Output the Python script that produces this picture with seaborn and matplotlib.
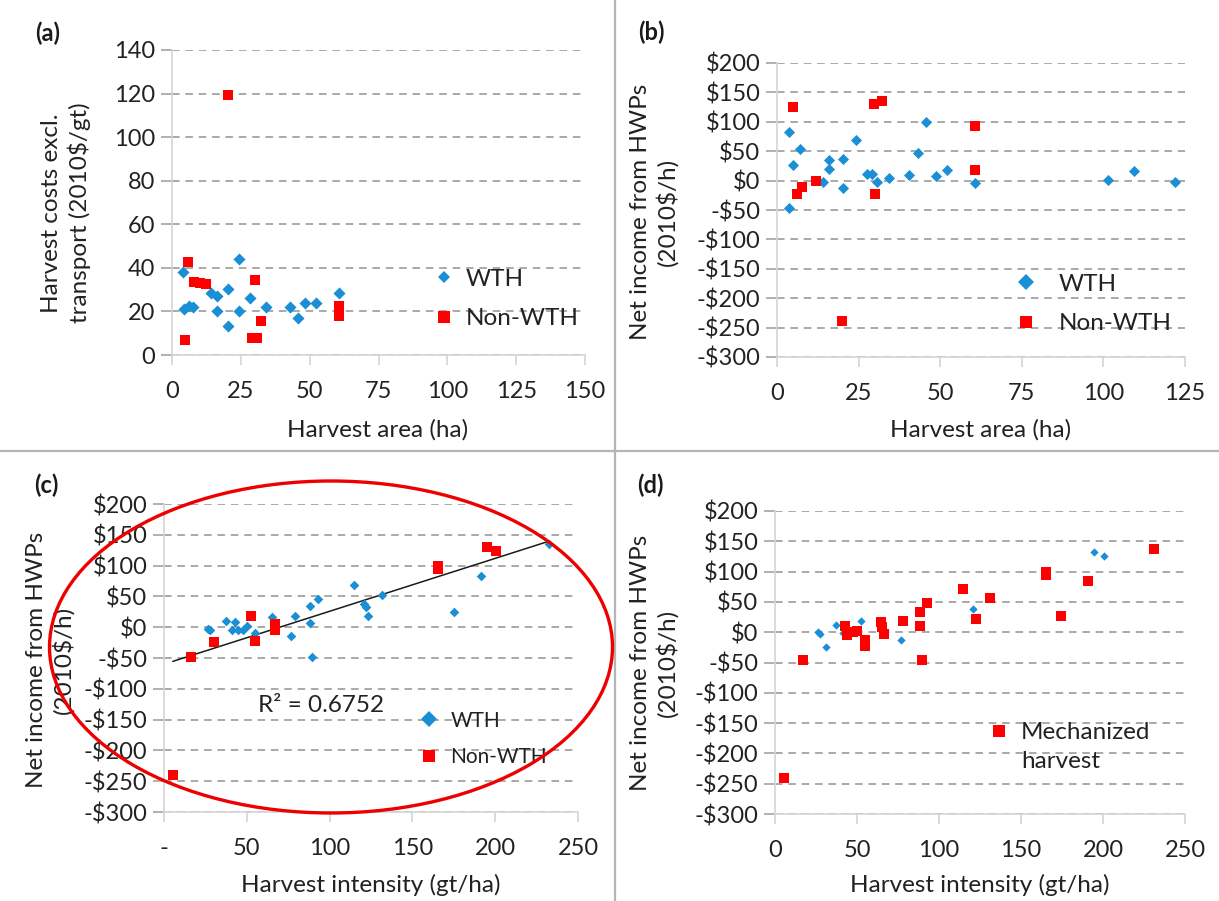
import matplotlib
matplotlib.use("Agg")
import matplotlib.pyplot as plt
from matplotlib.patches import Ellipse, Rectangle
from matplotlib.lines import Line2D
from matplotlib.ticker import FuncFormatter, MultipleLocator
import numpy as np
import pandas as pd
import seaborn as sns

# ---------------- data ----------------
# (a) harvest area (ha) vs harvest costs excl. transport (2010$/gt)
a_wth_area = [4.0, 4.3, 6.0, 7.5, 14.3, 16.3, 16.4, 20.3, 20.3, 24.2, 24.2, 28.5, 34.2, 42.7, 45.8, 48.3, 52.2, 60.8]
a_wth_cost = [38.0, 21.1, 22.5, 22.0, 28.4, 26.9, 20.0, 30.4, 13.2, 44.0, 20.0, 26.1, 22.0, 22.0, 17.0, 23.8, 23.8, 28.4]
a_non_area = [4.7, 5.8, 7.9, 10.0, 12.5, 20.3, 29.0, 30.2, 31.0, 32.5, 60.7, 60.7]
a_non_cost = [7.1, 42.5, 33.3, 33.0, 32.5, 119.2, 7.6, 34.5, 7.6, 15.8, 22.3, 17.8]

# (b) harvest area (ha) vs net income from HWPs (2010$/h)
b_wth_area = [3.6, 3.8, 4.8, 7.1, 14.0, 15.8, 16.0, 20.2, 20.2, 24.2, 27.7, 29.0, 30.5, 34.3, 40.5,
              43.2, 45.8, 48.6, 52.1, 60.7, 101.5, 109.5, 122.0]
b_wth_income = [-47.3, 83.4, 25.9, 54.1, -2.8, 35.5, 19.7, 37.2, -12.4, 69.3, 11.3, 11.8, -2.8, 4.5, 9.0,
                46.8, 99.2, 8.5, 17.5, -3.9, 1.1, 16.9, -2.8]
b_non_area = [4.8, 6.0, 7.7, 12.1, 20.0, 29.8, 32.1, 30.1, 60.7, 60.7]
b_non_income = [124.6, -22.5, -11.3, -1.1, -239.6, 130.2, 135.9, -22.5, 93.6, 17.5]

# (c) harvest intensity (gt/ha) vs net income, by WTH / Non-WTH
c_wth_int = [26.5, 27.5, 37.5, 41.3, 42.9, 44.6, 47.6, 50.0, 55.2, 65.3, 76.6, 79.0, 88.4, 88.4, 89.6,
             93.1, 114.7, 120.6, 121.8, 123.0, 131.9, 175.2, 191.2, 232.4]
c_wth_income = [-3.3, -4.5, 10.3, -4.9, 8.7, -4.9, -4.9, 1.6, -9.2, 16.8, -14.1, 17.9, 34.1, 7.6, -48.2,
                45.5, 68.3, 37.4, 33.0, 18.4, 52.5, 24.4, 83.9, 134.8]
c_non_int = [5.3, 16.6, 30.0, 52.8, 54.7, 67.2, 67.2, 165.3, 165.3, 195.2, 200.6]
c_non_income = [-240.5, -48.2, -23.8, 18.4, -22.8, 4.9, -4.9, 99.9, 94.5, 129.9, 124.5]
c_r2_label = "R² = 0.6752"

# (d) harvest intensity (gt/ha) vs net income, mechanized vs other harvest
d_other_int = [26.1, 27.3, 30.9, 37.3, 41.5, 52.7, 76.7, 120.6, 194.7, 200.6]
d_other_income = [0.9, -3.6, -23.9, 11.9, -1.9, 18.5, -12.9, 37.7, 131.8, 125.7]
d_mech_int = [5.2, 17.3, 42.7, 43.9, 47.5, 49.9, 54.6, 55.1, 64.8, 65.3, 66.5, 78.3, 88.3, 88.3, 89.5,
              92.6, 114.4, 122.3, 131.3, 165.0, 165.0, 174.5, 190.6, 231.0]
d_mech_income = [-241.3, -45.9, 10.2, -4.7, 0.9, 2.0, -12.9, -22.8, 17.4, 9.1, -3.6, 19.0, 33.9, 10.2, -45.9,
                 47.6, 71.3, 21.3, 56.0, 100.0, 94.5, 26.7, 84.4, 137.6]

# ---------------- style ----------------
sns.set_theme(style="white")
plt.rcParams["font.family"] = ["Lato", "DejaVu Sans"]
plt.rcParams["text.parse_math"] = False

BLUE = "#1a8fd5"
RED = "#ff0000"
TXT = "#222222"
GRID = "#a3a3a3"
SPINE = "#d4d4d4"
TICK_FS = 17
LAB_FS = 17.5

W, H = 1219, 901
fig = plt.figure(figsize=(W / 100, H / 100), dpi=100)
fig.patch.set_facecolor("white")


def fx(px):
    return px / W


def fy(py):
    return 1 - py / H


def make_axes(x0, x1, ytop, ybot):
    return fig.add_axes([fx(x0), fy(ybot), fx(x1) - fx(x0), (ybot - ytop) / H])


def dollars(v, _pos):
    v = int(round(v))
    return f"-${abs(v)}" if v < 0 else f"${v}"


def style_axes(ax, xlim, xstep, ylim, ystep):
    ax.set_xlim(*xlim)
    ax.set_ylim(*ylim)
    ax.xaxis.set_major_locator(MultipleLocator(xstep))
    ax.yaxis.set_major_locator(MultipleLocator(ystep))
    ax.set_axisbelow(True)
    ax.yaxis.grid(True, linestyle=(0, (4.2, 3.2)), color=GRID, linewidth=1.3)
    ax.xaxis.grid(False)
    for side in ("top", "right"):
        ax.spines[side].set_visible(False)
    for side in ("left", "bottom"):
        ax.spines[side].set_color(SPINE)
        ax.spines[side].set_linewidth(1.2)
    ax.tick_params(axis="y", which="major", direction="out", length=8, width=1.2,
                   color=GRID, labelsize=TICK_FS, labelcolor=TXT, pad=4, left=True)
    ax.tick_params(axis="x", which="major", direction="out", length=7, width=1.2,
                   color=SPINE, labelsize=TICK_FS, labelcolor=TXT, pad=12, bottom=True)
    ax.set_xlabel("")
    ax.set_ylabel("")
    ax.set_facecolor("white")


def scatter(ax, x, y, marker, color, size):
    df = pd.DataFrame({"x": x, "y": y})
    sns.scatterplot(data=df, x="x", y="y", ax=ax, marker=marker, color=color,
                    s=size, linewidth=0, zorder=3, legend=False)


def legend_box(x0, x1, y0, y1):
    fig.patches.append(Rectangle((fx(x0), fy(y1)), fx(x1) - fx(x0), (y1 - y0) / H,
                                 transform=fig.transFigure, facecolor="white",
                                 edgecolor="none", zorder=1.5))


def handle(marker, color, ms):
    return Line2D([], [], linestyle="none", marker=marker, color=color,
                  markersize=ms, markeredgewidth=0)


# ---------------- (a) ----------------
ax_a = make_axes(172, 585, 50, 355)
scatter(ax_a, a_wth_area, a_wth_cost, "D", BLUE, 38)
scatter(ax_a, a_non_area, a_non_cost, "s", RED, 55)
style_axes(ax_a, (0, 150), 25, (0, 140), 20)
ax_a.legend([handle("D", BLUE, 6.5), handle("s", RED, 8)], ["WTH", "Non-WTH"],
            loc="center left", bbox_to_anchor=(fx(432), fy(299)), bbox_transform=fig.transFigure,
            frameon=False, fontsize=LAB_FS, handlelength=1.0, handletextpad=0.4,
            labelspacing=0.75, borderpad=0, borderaxespad=0, labelcolor=TXT)

# ---------------- (b) ----------------
ax_b = make_axes(777, 1185, 63, 357)
scatter(ax_b, b_wth_area, b_wth_income, "D", BLUE, 32)
scatter(ax_b, b_non_area, b_non_income, "s", RED, 60)
style_axes(ax_b, (0, 125), 25, (-300, 200), 50)
ax_b.yaxis.set_major_formatter(FuncFormatter(dollars))
ax_b.legend([handle("D", BLUE, 8.5), handle("s", RED, 9)], ["WTH", "Non-WTH"],
            loc="center left", bbox_to_anchor=(fx(1014), fy(304)), bbox_transform=fig.transFigure,
            frameon=False, fontsize=LAB_FS, handlelength=1.0, handletextpad=0.85,
            labelspacing=0.75, borderpad=0, borderaxespad=0, labelcolor=TXT)

# ---------------- (c) ----------------
ax_c = make_axes(164, 578, 504, 812)
c_all = pd.DataFrame({"x": c_wth_int + c_non_int, "y": c_wth_income + c_non_income})
sns.regplot(data=c_all, x="x", y="y", ax=ax_c, scatter=False, ci=None, truncate=True,
            line_kws={"color": "#1a1a1a", "linewidth": 1.1, "zorder": 2})
scatter(ax_c, c_wth_int, c_wth_income, "D", BLUE, 24)
scatter(ax_c, c_non_int, c_non_income, "s", RED, 55)
style_axes(ax_c, (0, 250), 50, (-300, 200), 50)
ax_c.yaxis.set_major_formatter(FuncFormatter(dollars))
ax_c.xaxis.set_major_formatter(FuncFormatter(lambda v, p: "-" if abs(v) < 1e-9 else f"{int(v)}"))
ax_c.text(fx(321), fy(706), c_r2_label, transform=fig.transFigure, ha="center", va="center",
          fontsize=LAB_FS, color=TXT, zorder=4)
ax_c.legend([handle("D", BLUE, 8), handle("s", RED, 9)], ["WTH", "Non-WTH"],
            loc="center left", bbox_to_anchor=(fx(419), fy(739)), bbox_transform=fig.transFigure,
            frameon=False, fontsize=15, handlelength=1.0, handletextpad=0.5,
            labelspacing=0.8, borderpad=0, borderaxespad=0, labelcolor=TXT)

# ---------------- (d) ----------------
ax_d = make_axes(775, 1185, 511, 814)
scatter(ax_d, d_other_int, d_other_income, "D", BLUE, 18)
scatter(ax_d, d_mech_int, d_mech_income, "s", RED, 62)
style_axes(ax_d, (0, 250), 50, (-300, 200), 50)
ax_d.yaxis.set_major_formatter(FuncFormatter(dollars))
ax_d.legend([handle("s", RED, 8.5), Line2D([], [], linestyle="none")], ["Mechanized", "harvest"],
            loc="center left", bbox_to_anchor=(fx(987), fy(747)), bbox_transform=fig.transFigure,
            frameon=False, fontsize=LAB_FS, handlelength=1.0, handletextpad=0.4,
            labelspacing=0.3, borderpad=0, borderaxespad=0, labelcolor=TXT)

# legend backgrounds hiding the gridlines
legend_box(424, 570, 245, 335)
legend_box(1011, 1182, 225, 345)
legend_box(412, 547, 702, 770)
legend_box(943, 1182, 705, 800)
for ax in (ax_a, ax_b, ax_c, ax_d):
    ax.set_zorder(2)
    ax.patch.set_alpha(0)

# ---------------- axis titles & panel tags ----------------
ylab_kw = dict(rotation=90, ha="center", va="center", fontsize=LAB_FS, color=TXT,
               linespacing=1.25, multialignment="center")
fig.text(fx(66), fy(213), "Harvest costs excl.\ntransport (2010$/gt)", **ylab_kw)
fig.text(fx(654), fy(212), "Net income from HWPs\n(2010$/h)", **ylab_kw)
fig.text(fx(50), fy(660), "Net income from HWPs\n(2010$/h)", **ylab_kw)
fig.text(fx(654), fy(663), "Net income from HWPs\n(2010$/h)", **ylab_kw)

xlab_kw = dict(ha="center", va="center", fontsize=LAB_FS, color=TXT)
fig.text(fx(378), fy(430), "Harvest area (ha)", **xlab_kw)
fig.text(fx(981), fy(430), "Harvest area (ha)", **xlab_kw)
fig.text(fx(371), fy(885), "Harvest intensity (gt/ha)", **xlab_kw)
fig.text(fx(980), fy(885), "Harvest intensity (gt/ha)", **xlab_kw)

tag_kw = dict(ha="center", va="center", fontsize=17, fontweight="bold", color="#1a1a1a")
fig.text(fx(48), fy(33), "(a)", **tag_kw)
fig.text(fx(651), fy(32), "(b)", **tag_kw)
fig.text(fx(46), fy(485), "(c)", **tag_kw)
fig.text(fx(650), fy(485), "(d)", **tag_kw)

# ---------------- panel borders ----------------
fig.add_artist(Line2D([fx(615), fx(615)], [0, 1], transform=fig.transFigure,
                      color="#b5b5b5", linewidth=1.6, zorder=5))
fig.add_artist(Line2D([0, 1], [fy(451), fy(451)], transform=fig.transFigure,
                      color="#b5b5b5", linewidth=1.6, zorder=5))

# ---------------- highlight ring around (c) ----------------
fig.add_artist(Ellipse((fx(331), fy(647)), width=563 / W, height=332 / H,
                       transform=fig.transFigure, facecolor="none", edgecolor="#ee0000",
                       linewidth=2.4, zorder=10))

fig.savefig("out.png", dpi=100, facecolor="white")
